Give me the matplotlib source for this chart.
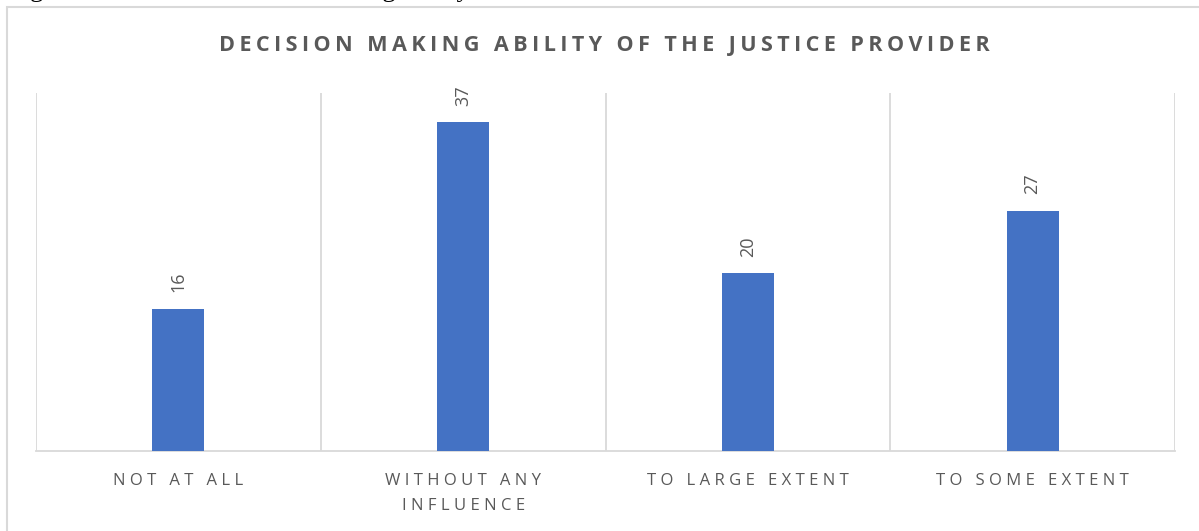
import matplotlib
matplotlib.use("Agg")
import matplotlib.pyplot as plt
from matplotlib.patches import Rectangle

categories = ["NOT AT ALL", "WITHOUT ANY\nINFLUENCE", "TO LARGE EXTENT", "TO SOME EXTENT"]
values = [16, 37, 20, 27]
title = "DECISION MAKING ABILITY OF THE JUSTICE PROVIDER"
caption = "Figure 5: Perceived decision making ability"

BAR = "#4472C4"
TXT = "#595959"
GRID = "#D9D9D9"
FAM = ["Open Sans", "DejaVu Sans"]

def spaced(s, sp="\u2009"):
    return "\n".join(sp.join(list(line)) for line in s.split("\n"))

fig = plt.figure(figsize=(11.99, 5.31), dpi=100)
fig.patch.set_facecolor("white")

# outer chart frame (partially cut off like the reference)
fig.patches.append(Rectangle((7/1199, -0.2), 1.2, 1 - 7/531 + 0.2, transform=fig.transFigure,
                             fill=False, edgecolor=GRID, linewidth=1.5, zorder=0))
fig.text(8/1199, 1.0 + 3.5/531, caption, ha="left", va="baseline", fontsize=19,
         family="Liberation Serif", color="black")

ax = fig.add_axes([36/1199, 80/531, (1175-36)/1199, (451-93)/531])
x = list(range(len(categories)))
bars = ax.bar(x, values, width=0.183, color=BAR, zorder=3)
ax.set_xlim(-0.5, len(categories) - 0.5)
ax.set_ylim(0, 40.3)
ax.set_yticks([])
ax.set_xticks(x)
ax.set_xticklabels([spaced(c, "\u2009\u200a") for c in categories], fontsize=12, color=TXT,
                   family=FAM, linespacing=1.75)
ax.tick_params(axis="x", length=0, pad=16)
ax.set_xticks([i - 0.5 for i in range(len(categories) + 1)], minor=True)
ax.tick_params(axis="x", which="minor", length=0)
ax.grid(True, axis="x", which="minor", color=GRID, linewidth=1.3, zorder=0)
for s in ["top", "right", "left"]:
    ax.spines[s].set_visible(False)
ax.spines["bottom"].set_color(GRID)
ax.spines["bottom"].set_linewidth(1.3)

for b, v in zip(bars, values):
    ax.annotate(str(v), (b.get_x() + b.get_width()/2, v), xytext=(0, 12),
                textcoords="offset points", rotation=90, ha="center", va="bottom",
                fontsize=13, color=TXT, family=FAM)

fig.text(604/1199, 1 - 45/531, spaced(title), ha="center", va="center",
         fontsize=15.6, fontweight="bold", color=TXT, family=FAM)

fig.savefig("out.png", dpi=100)
